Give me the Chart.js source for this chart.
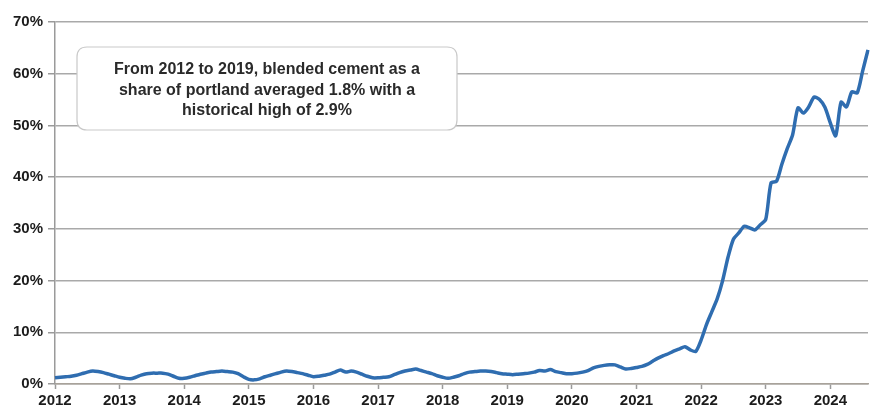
<!DOCTYPE html>
<html>
<head>
<meta charset="utf-8">
<script src="https://cdn.jsdelivr.net/npm/chart.js@4"></script>
<style>
html,body{margin:0;padding:0;background:#fff;}
#wrap{position:relative;width:871px;height:411px;}
</style>
</head>
<body>
<div id="wrap"><canvas id="c" width="871" height="411"></canvas></div>
<script>
// ---- data ----
const years = [2012,2013,2014,2015,2016,2017,2018,2019,2020,2021,2022,2023,2024];
const monthNames = ['Jan','Feb','Mar','Apr','May','Jun','Jul','Aug','Sep','Oct','Nov','Dec'];
const yTicks = [0,10,20,30,40,50,60,70];
// Blended cement as a share of portland (%), monthly Jan 2012 - Aug 2024
const share = [
  1.2,1.3,1.4,1.5,1.7,2.0,2.3,2.5,2.4,2.2,1.9,1.6,        // 2012
  1.3,1.1,1.0,1.3,1.7,2.0,2.1,2.1,2.1,1.9,1.5,1.1,        // 2013
  1.1,1.3,1.6,1.9,2.1,2.3,2.4,2.5,2.4,2.3,2.0,1.4,        // 2014
  0.9,0.8,1.0,1.4,1.7,2.0,2.3,2.5,2.4,2.2,2.0,1.7,        // 2015
  1.4,1.5,1.7,1.9,2.3,2.7,2.3,2.5,2.3,1.9,1.5,1.2,        // 2016
  1.2,1.3,1.4,1.8,2.2,2.5,2.7,2.9,2.6,2.3,2.0,1.6,        // 2017
  1.3,1.1,1.3,1.6,2.0,2.3,2.4,2.5,2.5,2.4,2.2,2.0,        // 2018
  1.9,1.8,1.9,2.0,2.1,2.3,2.6,2.5,2.8,2.4,2.2,2.0,        // 2019
  2.0,2.1,2.3,2.6,3.1,3.4,3.6,3.7,3.7,3.3,2.9,3.0,        // 2020
  3.2,3.4,3.8,4.4,5.0,5.5,5.9,6.4,6.8,7.2,6.6,6.3,        // 2021
  8.5,11.5,14.0,16.5,20.0,24.5,28.0,29.2,30.5,30.2,29.8,30.8, // 2022
  31.8,38.9,39.2,42.5,45.5,48.2,53.4,52.4,53.6,55.5,55.0,53.5, // 2023
  50.5,48.0,54.5,53.6,56.5,56.3,60.5,64.6                  // 2024
];
const annotationLines = [
  'From 2012 to 2019, blended cement as a',
  'share of portland averaged 1.8% with a',
  'historical high of 2.9%'
];

const categories = [];
for (const y of years) for (const m of monthNames) if (categories.length < share.length) categories.push(m + ' ' + y);

const FONT = "'Liberation Sans', Arial, sans-serif";

const annotationPlugin = {
  id: 'noteBox',
  afterDatasetsDraw(chart) {
    const ctx = chart.ctx;
    const x = 77, y = 47, w = 380, h = 83, r = 10;
    ctx.save();
    ctx.beginPath();
    ctx.moveTo(x + r, y);
    ctx.lineTo(x + w - r, y);
    ctx.quadraticCurveTo(x + w, y, x + w, y + r);
    ctx.lineTo(x + w, y + h - r);
    ctx.quadraticCurveTo(x + w, y + h, x + w - r, y + h);
    ctx.lineTo(x + r, y + h);
    ctx.quadraticCurveTo(x, y + h, x, y + h - r);
    ctx.lineTo(x, y + r);
    ctx.quadraticCurveTo(x, y, x + r, y);
    ctx.closePath();
    ctx.fillStyle = '#ffffff';
    ctx.fill();
    ctx.lineWidth = 1.2;
    ctx.strokeStyle = '#c9c9c9';
    ctx.stroke();
    ctx.fillStyle = '#2a2a2a';
    ctx.font = 'bold 16px ' + FONT;
    ctx.textAlign = 'center';
    ctx.textBaseline = 'middle';
    annotationLines.forEach((t, i) => ctx.fillText(t, x + w / 2, 69.5 + i * 20.7));
    ctx.restore();
  }
};

new Chart(document.getElementById('c'), {
  type: 'line',
  data: {
    labels: categories,
    datasets: [{
      data: share,
      borderColor: '#2f6db0',
      borderWidth: 3.5,
      pointRadius: 0,
      tension: 0.25,
      fill: false
    }]
  },
  options: {
    responsive: false,
    animation: false,
    devicePixelRatio: 1,
    layout: { padding: { top: 22, right: 0, bottom: 0, left: 0 } },
    plugins: { legend: { display: false }, tooltip: { enabled: false } },
    scales: {
      x: {
        type: 'category',
        offset: false,
        afterFit(s) { s.height = 27; },
        grid: {
          display: true,
          drawOnChartArea: false,
          drawTicks: true,
          tickLength: 5,
          tickColor: (c) => (c.index % 12 === 0 ? '#9a9a9a' : 'rgba(0,0,0,0)'),
          tickWidth: 1.5
        },
        border: { display: true, color: '#a8a29a', width: 1.5 },
        ticks: {
          autoSkip: false,
          maxRotation: 0,
          minRotation: 0,
          padding: 3,
          color: '#1c1c1c',
          font: { family: FONT, size: 15, weight: 'bold' },
          callback: (v, i) => (i % 12 === 0 ? String(years[i / 12]) : '')
        }
      },
      y: {
        min: 0,
        max: 70,
        afterFit(s) { s.width = 55; },
        afterBuildTicks(s) { s.ticks = yTicks.map(v => ({ value: v })); },
        grid: {
          color: '#a9a9a9',
          lineWidth: 1.5,
          drawTicks: true,
          tickLength: 7,
          tickColor: '#9a9a9a'
        },
        border: { display: true, color: '#9a9a9a', width: 1.5 },
        ticks: {
          padding: 5,
          color: '#1c1c1c',
          font: { family: FONT, size: 15, weight: 'bold' },
          callback: (v) => v + '%'
        }
      }
    }
  },
  plugins: [annotationPlugin]
});
</script>
</body>
</html>
